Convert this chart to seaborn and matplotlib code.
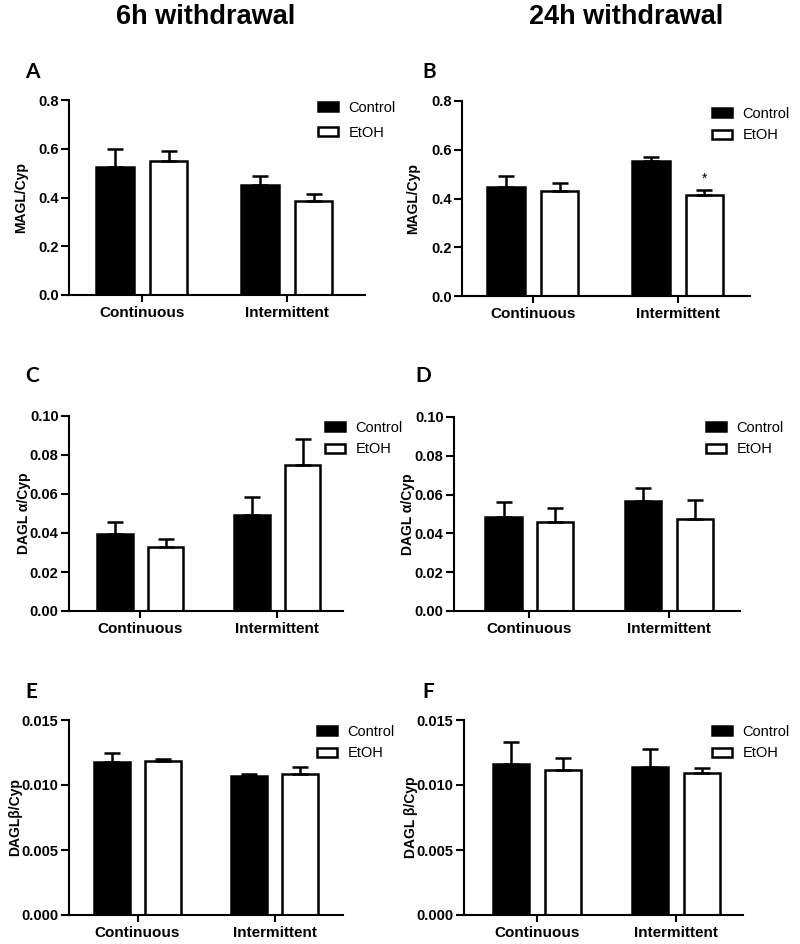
import numpy as np
import pandas as pd
import matplotlib
matplotlib.use('Agg')
import matplotlib.pyplot as plt
import seaborn as sns

# groups / treatments
groups = ["Continuous", "Intermittent"]
treatments = ["Control", "EtOH"]

# MAGL/Cyp, 6h withdrawal (A)
magl_6h_ctrl = [0.524, 0.451]
magl_6h_ctrl_sem = [0.075, 0.036]
magl_6h_etoh = [0.550, 0.386]
magl_6h_etoh_sem = [0.040, 0.028]

# MAGL/Cyp, 24h withdrawal (B)
magl_24h_ctrl = [0.447, 0.553]
magl_24h_ctrl_sem = [0.047, 0.017]
magl_24h_etoh = [0.431, 0.416]
magl_24h_etoh_sem = [0.033, 0.018]

# DAGL alpha/Cyp, 6h (C)
dagla_6h_ctrl = [0.0394, 0.0492]
dagla_6h_ctrl_sem = [0.0060, 0.0094]
dagla_6h_etoh = [0.0329, 0.0748]
dagla_6h_etoh_sem = [0.0039, 0.0134]

# DAGL alpha/Cyp, 24h (D)
dagla_24h_ctrl = [0.0482, 0.0566]
dagla_24h_ctrl_sem = [0.0082, 0.0067]
dagla_24h_etoh = [0.0459, 0.0473]
dagla_24h_etoh_sem = [0.0073, 0.0098]

# DAGL beta/Cyp, 6h (E)
daglb_6h_ctrl = [0.01176, 0.01066]
daglb_6h_ctrl_sem = [0.00070, 0.00020]
daglb_6h_etoh = [0.01181, 0.01084]
daglb_6h_etoh_sem = [0.00021, 0.00051]

# DAGL beta/Cyp, 24h (F)
daglb_24h_ctrl = [0.01158, 0.01140]
daglb_24h_ctrl_sem = [0.00175, 0.00139]
daglb_24h_etoh = [0.01117, 0.01096]
daglb_24h_etoh_sem = [0.00087, 0.00034]

W, H = 800, 944

sns.set_style('ticks', rc={"text.color": "black", "axes.labelcolor": "black",
                           "xtick.color": "black", "ytick.color": "black",
                           "axes.edgecolor": "black"})
plt.rcParams['font.family'] = ['Liberation Sans', 'DejaVu Sans']

fig = plt.figure(figsize=(W / 100, H / 100), dpi=100)


def add_ax(left, right, top, bottom):
    return fig.add_axes([left / W, 1 - bottom / H, (right - left) / W, (bottom - top) / H])


# letter, box (l, r, t, b px), xlim, ymax, yticks, fmt, ylabel, ylabel x px, legend (x, y px), label spacing, data
panels = [
    ("A", (69, 365, 100, 295), (-0.503, 1.54), 0.8, np.arange(0, 0.81, 0.2), "{:.1f}", "MAGL/Cyp", 28, (318, 101), 0.75,
     magl_6h_ctrl, magl_6h_ctrl_sem, magl_6h_etoh, magl_6h_etoh_sem),
    ("B", (462, 750, 101, 296), (-0.49, 1.50), 0.8, np.arange(0, 0.81, 0.2), "{:.1f}", "MAGL/Cyp", 420, (712, 107), 0.5,
     magl_24h_ctrl, magl_24h_ctrl_sem, magl_24h_etoh, magl_24h_etoh_sem),
    ("C", (69, 343, 416, 611), (-0.52, 1.48), 0.10, np.arange(0, 0.101, 0.02), "{:.2f}", "DAGL \u03b1/Cyp", 31, (325, 421), 0.5,
     dagla_6h_ctrl, dagla_6h_ctrl_sem, dagla_6h_etoh, dagla_6h_etoh_sem),
    ("D", (454, 740, 417, 611), (-0.54, 1.51), 0.10, np.arange(0, 0.101, 0.02), "{:.2f}", "DAGL \u03b1/Cyp", 415, (706, 421), 0.5,
     dagla_24h_ctrl, dagla_24h_ctrl_sem, dagla_24h_etoh, dagla_24h_etoh_sem),
    ("E", (69, 343, 720, 915), (-0.50, 1.50), 0.015, np.arange(0, 0.0151, 0.005), "{:.3f}", "DAGL\u03b2/Cyp", 22, (317, 725), 0.5,
     daglb_6h_ctrl, daglb_6h_ctrl_sem, daglb_6h_etoh, daglb_6h_etoh_sem),
    ("F", (464, 743, 720, 915), (-0.525, 1.48), 0.015, np.arange(0, 0.0151, 0.005), "{:.3f}", "DAGL \u03b2/Cyp", 418, (712, 725), 0.5,
     daglb_24h_ctrl, daglb_24h_ctrl_sem, daglb_24h_etoh, daglb_24h_etoh_sem),
]

letter_pos = {"A": (25, 72), "B": (422, 72), "C": (25, 376), "D": (415, 376), "E": (25, 692), "F": (422, 692)}

axes = {}
for (letter, box, xlim, ymax, yticks, fmt, ylabel, ylab_x, leg_xy, lspace,
     ctrl, ctrl_sem, etoh, etoh_sem) in panels:
    ax = add_ax(*box)
    axes[letter] = ax
    df = pd.DataFrame({
        "group": groups * 2,
        "treatment": ["Control"] * 2 + ["EtOH"] * 2,
        "value": ctrl + etoh,
    })
    sns.barplot(data=df, x="group", y="value", hue="treatment", hue_order=treatments,
                palette={"Control": "black", "EtOH": "white"}, saturation=1,
                edgecolor="black", linewidth=1.8, width=0.74, gap=0.3,
                errorbar=None, ax=ax)

    # one-sided SEM bars
    for cont, sems in zip(ax.containers, [ctrl_sem, etoh_sem]):
        xs = [b.get_x() + b.get_width() / 2 for b in cont]
        ys = [b.get_height() for b in cont]
        ax.errorbar(xs, ys, yerr=[np.zeros(len(sems)), sems], fmt="none", ecolor="black",
                    elinewidth=1.8, capsize=6, capthick=1.8, zorder=1)

    ax.set_xlim(*xlim)
    ax.set_ylim(0, ymax)
    ax.set_yticks(yticks)
    ax.set_yticklabels([fmt.format(v) for v in yticks])
    ax.set_xlabel("")
    ax.set_ylabel(ylabel, fontsize=10, fontweight="bold")
    ax.yaxis.set_label_coords((ylab_x - box[0]) / (box[1] - box[0]), 0.5)
    ax.tick_params(axis="y", length=6, width=1.5, pad=1.5, labelsize=10.5)
    ax.tick_params(axis="x", length=5, width=1.5, pad=3, labelsize=11)
    for lab in ax.get_xticklabels() + ax.get_yticklabels():
        lab.set_fontweight("bold")
    sns.despine(ax=ax)
    for s in ["left", "bottom"]:
        ax.spines[s].set_linewidth(1.5)

    handles, labels = ax.get_legend_handles_labels()
    ax.legend(handles, labels, loc="upper left",
              bbox_to_anchor=(leg_xy[0] / W, 1 - leg_xy[1] / H), bbox_transform=fig.transFigure,
              frameon=False, fontsize=10.5, handlelength=1.35, handleheight=0.55,
              handletextpad=0.75, labelspacing=lspace, borderpad=0, borderaxespad=0)

    fig.text(letter_pos[letter][0] / W, 1 - letter_pos[letter][1] / H, letter,
             fontfamily="Lato", fontweight="bold", fontsize=15, ha="left", va="center")

# significance star, panel B, intermittent EtOH
axB = axes["B"]
bar = axB.containers[1][1]
axB.annotate("*", (bar.get_x() + bar.get_width() / 2, magl_24h_etoh[1] + magl_24h_etoh_sem[1]),
             xytext=(0, 3), textcoords="offset points", ha="center", va="bottom", fontsize=10)

fig.text(206 / W, 1 - 17 / H, "6h withdrawal", ha="center", va="center", fontsize=19.5, fontweight="bold")
fig.text(626 / W, 1 - 17 / H, "24h withdrawal", ha="center", va="center", fontsize=19.5, fontweight="bold")

fig.savefig("out.png", dpi=100)
